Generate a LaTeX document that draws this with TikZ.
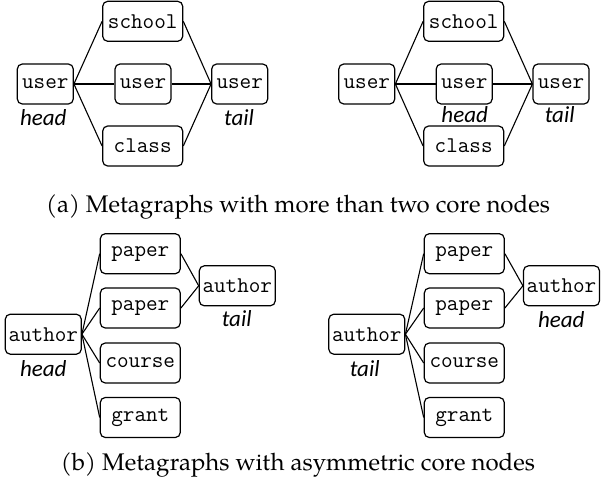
\documentclass[tikz,border=0pt]{standalone}
\usepackage{fontspec}
\newfontfamily\lblfont{Carlito}
\newfontfamily\capfont{TeX Gyre Pagella}
\begin{document}
\begin{tikzpicture}[x=1pt,y=-1pt,
  box/.style={draw, line width=1.2pt, rounded corners=5pt, minimum height=40pt,
    inner xsep=0pt, inner ysep=0pt, font=\ttfamily\fontsize{22.5}{22.5}\selectfont},
  wuser/.style={box, minimum width=56pt},
  wbig/.style={box, minimum width=80pt},
  wauth/.style={box, minimum width=76pt},
  role/.style={font=\lblfont\itshape\fontsize{23}{23}\selectfont, inner sep=0pt},
  edgethin/.style={line width=1.1pt},
  edgethick/.style={line width=2.4pt},
  captext/.style={font=\capfont\fontsize{24}{24}\selectfont, anchor=base, inner sep=0pt}]
\useasboundingbox (0,0) rectangle (606,485);
% (a) left
\node[wuser] (ah) at (45.3,84) {user};
\node[wbig] (as) at (142.7,21.3) {school};
\node[wuser] (am) at (143,84) {user};
\node[wbig] (ac) at (142.7,146) {class};
\node[wuser] (at) at (239.7,84) {user};
\node[role] (ahl) at (43.3,118) {head};
\node[role] (atl) at (239,118) {tail};
\draw[edgethin] (ah.east) -- (as.west);
\draw[edgethin] (ah.east) -- (ac.west);
\draw[edgethick] (ah.east) -- (am.west);
\draw[edgethick] (am.east) -- (at.west);
\draw[edgethin] (as.east) -- (at.west);
\draw[edgethin] (ac.east) -- (at.west);
% (a) right
\node[wuser] (bl) at (366.8,84) {user};
\node[wbig] (bs) at (463.7,21.3) {school};
\node[wuser] (bm) at (464.2,84) {user};
\node[wbig] (bc) at (463.7,146) {class};
\node[wuser] (bt) at (561,84) {user};
\node[role] (bml) at (464.7,115) {head};
\node[role] (btl) at (559.7,115) {tail};
\draw[edgethin] (bl.east) -- (bs.west);
\draw[edgethin] (bl.east) -- (bc.west);
\draw[edgethick] (bl.east) -- (bm.west);
\draw[edgethick] (bm.east) -- (bt.west);
\draw[edgethin] (bs.east) -- (bt.west);
\draw[edgethin] (bc.east) -- (bt.west);
\node[captext] (capa) at (298,212) {(a) Metagraphs with more than two core nodes};
% (b) left
\node[wauth] (ch) at (43.3,334.2) {author};
\node[wbig] (cp1) at (140.3,253.7) {paper};
\node[wbig] (cp2) at (140.3,308) {paper};
\node[wbig] (cco) at (140.3,363) {course};
\node[wbig] (cg) at (140.3,417.5) {grant};
\node[wauth] (ct) at (237.3,285.8) {author};
\node[role] (chl) at (43.3,368.3) {head};
\node[role] (ctl) at (236.7,319) {tail};
\foreach \n in {cp1,cp2,cco,cg} \draw[edgethin] (ch.east) -- (\n.west);
\draw[edgethin] (cp1.east) -- (ct.west);
\draw[edgethin] (cp2.east) -- (ct.west);
% (b) right
\node[wauth] (dt) at (366.8,334.2) {author};
\node[wbig] (dp1) at (464.3,253.7) {paper};
\node[wbig] (dp2) at (464.3,308) {paper};
\node[wbig] (dco) at (464.3,363) {course};
\node[wbig] (dg) at (464.3,417.5) {grant};
\node[wauth] (dh) at (561.5,285.8) {author};
\node[role] (dtl) at (364.7,368.3) {tail};
\node[role] (dhl) at (561.3,320) {head};
\foreach \n in {dp1,dp2,dco,dg} \draw[edgethin] (dt.east) -- (\n.west);
\draw[edgethin] (dp1.east) -- (dh.west);
\draw[edgethin] (dp2.east) -- (dh.west);
\node[captext] (capb) at (298,470) {(b) Metagraphs with asymmetric core nodes};
\end{tikzpicture}
\end{document}
